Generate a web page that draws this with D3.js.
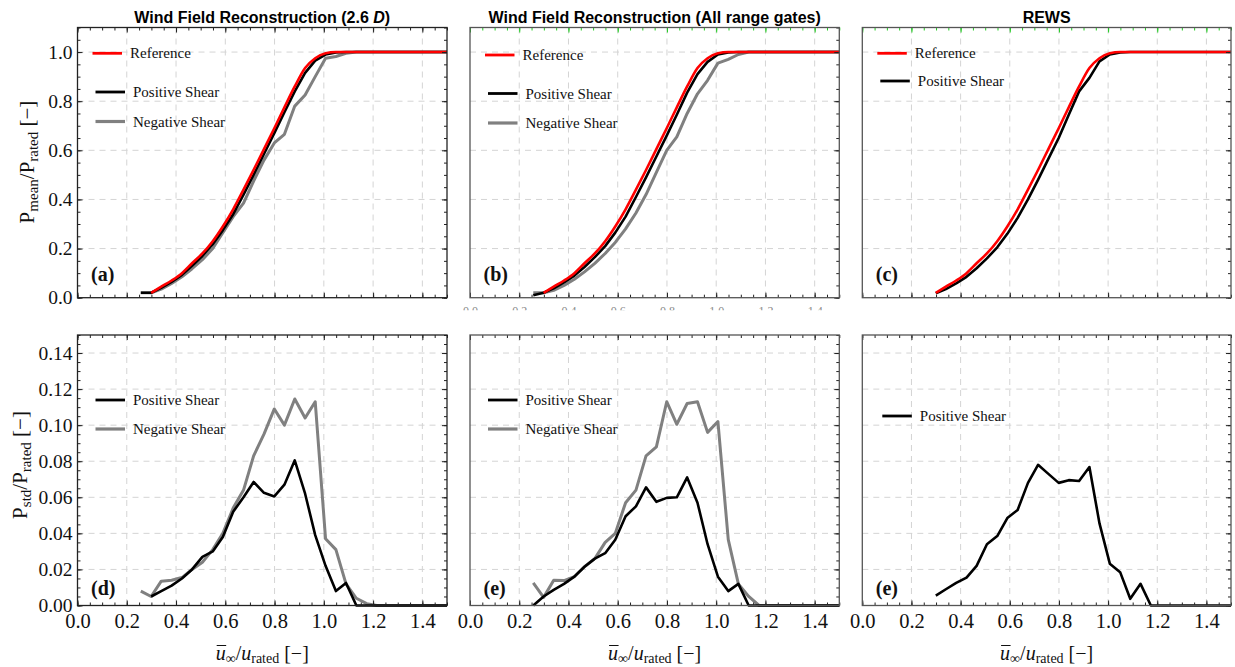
<!DOCTYPE html>
<html>
<head>
<meta charset="utf-8">
<script src="https://cdn.jsdelivr.net/npm/d3@7"></script>
<style>
  html, body { margin: 0; padding: 0; background: #fff; }
  svg { display: block; }
</style>
</head>
<body>
<svg id="chart" width="1235" height="667"></svg>
<script>
// ---------------- DATA ----------------
const panelTitles = ["Wind Field Reconstruction (2.6 D)", "Wind Field Reconstruction (All range gates)", "REWS"];
const panelLetters = ["(a)", "(b)", "(c)", "(d)", "(e)", "(e)"];
const seriesNames = ["Reference", "Positive Shear", "Negative Shear"];

const xTicks = [0.0, 0.2, 0.4, 0.6, 0.8, 1.0, 1.2, 1.4];
const xTickLabels = ["0.0", "0.2", "0.4", "0.6", "0.8", "1.0", "1.2", "1.4"];
const meanTicks = [0.0, 0.2, 0.4, 0.6, 0.8, 1.0];
const meanTickLabels = ["0.0", "0.2", "0.4", "0.6", "0.8", "1.0"];
const stdTicks = [0.00, 0.02, 0.04, 0.06, 0.08, 0.10, 0.12, 0.14];
const stdTickLabels = ["0.00", "0.02", "0.04", "0.06", "0.08", "0.10", "0.12", "0.14"];

// normalised wind speed bins
const uBins = [0.257, 0.299, 0.340, 0.382, 0.424, 0.465, 0.507, 0.549, 0.590, 0.632, 0.674, 0.715, 0.757, 0.799, 0.840, 0.882, 0.924, 0.965, 1.007, 1.049, 1.090, 1.132, 1.174, 1.215, 1.257, 1.299, 1.340, 1.382, 1.424, 1.465, 1.507];

// P_mean / P_rated
const refMean   = [null, 0.02, 0.045, 0.07, 0.10, 0.14, 0.18, 0.23, 0.29, 0.36, 0.44, 0.52, 0.605, 0.69, 0.775, 0.86, 0.935, 0.975, 0.995, 1, 1, 1, 1, 1, 1, 1, 1, 1, 1, 1, 1];
const posMeanA  = [0.02, 0.02, 0.04, 0.064, 0.093, 0.13, 0.17, 0.218, 0.275, 0.34, 0.42, 0.50, 0.585, 0.67, 0.755, 0.84, 0.915, 0.965, 0.99, 0.998, 1, 1, 1, 1, 1, 1, 1, 1, 1, 1, 1];
const negMeanA  = [0.02, 0.02, 0.035, 0.058, 0.085, 0.118, 0.155, 0.2, 0.265, 0.33, 0.385, 0.475, 0.56, 0.63, 0.665, 0.78, 0.825, 0.90, 0.975, 0.982, 0.995, 1, 1, 1, 1, 1, 1, 1, 1, 1, 1];
const posMeanB  = [0.01, 0.02, 0.038, 0.062, 0.09, 0.125, 0.165, 0.21, 0.265, 0.33, 0.41, 0.49, 0.575, 0.66, 0.745, 0.835, 0.91, 0.96, 0.99, 0.998, 1, 1, 1, 1, 1, 1, 1, 1, 1, 1, 1];
const negMeanB  = [0.02, 0.02, 0.03, 0.05, 0.075, 0.105, 0.14, 0.18, 0.225, 0.28, 0.345, 0.42, 0.51, 0.60, 0.655, 0.75, 0.83, 0.885, 0.955, 0.97, 0.99, 1, 1, 1, 1, 1, 1, 1, 1, 1, 1];
const posMeanC  = [null, 0.018, 0.035, 0.058, 0.085, 0.12, 0.16, 0.205, 0.26, 0.325, 0.40, 0.48, 0.565, 0.65, 0.745, 0.84, 0.895, 0.962, 0.99, 0.998, 1, 1, 1, 1, 1, 1, 1, 1, 1, 1, 1];

// P_std / P_rated
const posStdD = [null, 0.005, 0.008, 0.011, 0.015, 0.020, 0.027, 0.030, 0.038, 0.052, 0.060, 0.0685, 0.0625, 0.0605, 0.067, 0.0805, 0.062, 0.039, 0.022, 0.008, 0.0125, 0, 0, 0, 0, 0, 0, 0, 0, 0, 0];
const negStdD = [0.008, 0.005, 0.0135, 0.014, 0.0155, 0.020, 0.024, 0.031, 0.040, 0.054, 0.064, 0.083, 0.095, 0.109, 0.100, 0.1145, 0.104, 0.113, 0.037, 0.031, 0.012, 0.004, 0.001, 0, 0, 0, 0, 0, 0, 0, 0];
const posStdE = [0, 0.005, 0.0087, 0.012, 0.016, 0.0215, 0.026, 0.029, 0.0365, 0.0495, 0.055, 0.0655, 0.0575, 0.0597, 0.060, 0.071, 0.057, 0.034, 0.016, 0.008, 0.012, 0, 0, 0, 0, 0, 0, 0, 0, 0, 0];
const negStdE = [0.0125, 0.0045, 0.014, 0.0138, 0.016, 0.0215, 0.026, 0.035, 0.040, 0.057, 0.064, 0.083, 0.088, 0.113, 0.1005, 0.112, 0.113, 0.096, 0.102, 0.0365, 0.012, 0.005, 0, 0, 0, 0, 0, 0, 0, 0, 0];
const posStdF = [null, 0.0055, 0.009, 0.0125, 0.0155, 0.022, 0.034, 0.0385, 0.0485, 0.053, 0.068, 0.078, 0.073, 0.068, 0.0695, 0.069, 0.0768, 0.0455, 0.0232, 0.0185, 0.0037, 0.012, 0, 0, 0, 0, 0, 0, 0, 0, 0];

// ---------------- LAYOUT / STYLE ----------------
const svg = d3.select("#chart");
const SERIF = "'Liberation Serif', 'Times New Roman', serif";
const SANS = "'Liberation Sans', Arial, sans-serif";
const colors = { ref: "#ff0000", pos: "#000000", neg: "#808080" };
const widths = { ref: 2.6, pos: 2.6, neg: 3.0 };

const cols = [{ x0: 77.5, x1: 447 }, { x0: 470, x1: 839.3 }, { x0: 862.3, x1: 1231 }];
const rows = [{ y0: 27.5, y1: 297.7, domain: [0, 1.1], major: meanTicks, labels: meanTickLabels, minorStep: 0.05, grid: [0.2, 0.4, 0.6, 0.8, 1.0] },
              { y0: 335, y1: 605.5, domain: [0, 0.15], major: stdTicks, labels: stdTickLabels, minorStep: 0.005, grid: [0.02, 0.04, 0.06, 0.08, 0.10, 0.12, 0.14] }];

const xMinor = d3.range(0, 1.5001, 0.05);

const panels = [
  { r: 0, c: 0, series: [["neg", negMeanA], ["pos", posMeanA], ["ref", refMean]],
    legend: [["ref", 0, 25.8], ["pos", 3, 64.5], ["neg", 3, 94]] },
  { r: 0, c: 1, series: [["neg", negMeanB], ["pos", posMeanB], ["ref", refMean]],
    legend: [["ref", 0, 27.5], ["pos", 3, 66], ["neg", 3, 95.5]] },
  { r: 0, c: 2, series: [["pos", posMeanC], ["ref", refMean]],
    legend: [["ref", 0, 25.8], ["pos", 3, 53.5]] },
  { r: 1, c: 0, series: [["neg", negStdD], ["pos", posStdD]],
    legend: [["pos", 3, 65], ["neg", 3, 94]] },
  { r: 1, c: 1, series: [["neg", negStdE], ["pos", posStdE]],
    legend: [["pos", 3, 65], ["neg", 3, 94]] },
  { r: 1, c: 2, series: [["pos", posStdF]],
    legend: [["pos", 5, 81]] }
];
const legendNames = { ref: seriesNames[0], pos: seriesNames[1], neg: seriesNames[2] };

const defs = svg.append("defs");

panels.forEach((p, i) => {
  const col = cols[p.c], row = rows[p.r];
  const x = d3.scaleLinear().domain([0, 1.5]).range([col.x0, col.x1]);
  const y = d3.scaleLinear().domain(row.domain).range([row.y1, row.y0]);
  const g = svg.append("g");
  const yMinor = d3.range(row.domain[0], row.domain[1] + 1e-9, row.minorStep);

  // grid
  g.append("g").selectAll("line").data(xTicks.filter(v => v > 0)).join("line")
    .attr("x1", d => x(d)).attr("x2", d => x(d)).attr("y1", row.y0).attr("y2", row.y1)
    .attr("stroke", "#d4d4d4").attr("stroke-width", 1).attr("stroke-dasharray", "6,5");
  g.append("g").selectAll("line").data(row.grid).join("line")
    .attr("x1", col.x0).attr("x2", col.x1).attr("y1", d => y(d)).attr("y2", d => y(d))
    .attr("stroke", "#d4d4d4").attr("stroke-width", 1).attr("stroke-dasharray", "6,5");

  // clip
  const cid = "clip" + i;
  defs.append("clipPath").attr("id", cid).append("rect")
    .attr("x", col.x0).attr("y", row.y0 - 2).attr("width", col.x1 - col.x0).attr("height", row.y1 - row.y0 + 4);

  // lines
  const lg = g.append("g").attr("clip-path", `url(#${cid})`);
  p.series.forEach(([key, vals]) => {
    const pts = uBins.map((u, k) => [u, vals[k]]);
    const line = d3.line().defined(d => d[1] !== null).x(d => x(d[0])).y(d => y(d[1]))
      .curve(key === "ref" ? d3.curveMonotoneX : d3.curveLinear);
    lg.append("path").attr("d", line(pts)).attr("fill", "none")
      .attr("stroke", colors[key]).attr("stroke-width", widths[key])
      .attr("stroke-linejoin", "round").attr("stroke-linecap", "butt");
  });

  // ticks (inward) via d3 axes
  const tickColor = "#222";
  const topGreen = (p.r === 0 && p.c > 0);
  const addAxis = (axisFn, scale, vals, size, tx, ty, color) => {
    const a = g.append("g").attr("transform", `translate(${tx},${ty})`)
      .call(axisFn(scale).tickValues(vals).tickSize(-size).tickFormat(""));
    a.select(".domain").remove();
    a.selectAll("line").attr("stroke", color).attr("stroke-width", 1);
    return a;
  };
  addAxis(d3.axisBottom, x, xMinor, 3, 0, row.y1, tickColor);
  addAxis(d3.axisBottom, x, xTicks, 5, 0, row.y1, tickColor);
  addAxis(d3.axisTop, x, xMinor, 3, 0, row.y0, topGreen ? "#22cc22" : tickColor);
  addAxis(d3.axisTop, x, xTicks, 5, 0, row.y0, topGreen ? "#22cc22" : tickColor);
  addAxis(d3.axisRight, y, yMinor, 3, col.x1, 0, tickColor);
  addAxis(d3.axisRight, y, row.major, 5, col.x1, 0, tickColor);
  if (p.c === 0) {
    addAxis(d3.axisLeft, y, yMinor, 3, col.x0, 0, tickColor);
    const la = g.append("g").attr("transform", `translate(${col.x0},0)`)
      .call(d3.axisLeft(y).tickValues(row.major).tickSize(-5).tickPadding(5)
        .tickFormat((d, k) => row.labels[k]));
    la.select(".domain").remove();
    la.selectAll("line").attr("stroke", tickColor);
    la.selectAll("text").attr("font-family", SERIF).attr("font-size", 19.5).attr("fill", "#111");
  }

  // frame
  g.append("rect").attr("x", col.x0).attr("y", row.y0)
    .attr("width", col.x1 - col.x0).attr("height", row.y1 - row.y0)
    .attr("fill", "none").attr("stroke", p.c === 0 ? "#222" : "#555").attr("stroke-width", 1.3);

  // x tick labels on bottom row
  if (p.r === 1) {
    const ba = g.append("g").attr("transform", `translate(0,${row.y1})`)
      .call(d3.axisBottom(x).tickValues(xTicks).tickSize(0).tickPadding(8)
        .tickFormat((d, k) => xTickLabels[k]));
    ba.select(".domain").remove();
    ba.selectAll("text").attr("font-family", SERIF).attr("font-size", 20.5).attr("fill", "#111");
  }
  // clipped remnants of tick labels under panel (b)
  if (p.r === 0 && p.c === 1) {
    defs.append("clipPath").attr("id", "cutb").append("rect")
      .attr("x", col.x0 - 20).attr("y", 306).attr("width", col.x1 - col.x0 + 40).attr("height", 4.3);
    const ca = g.append("g").attr("clip-path", "url(#cutb)")
      .append("g").attr("transform", `translate(0,${row.y1})`)
      .call(d3.axisBottom(x).tickValues(xTicks).tickSize(0).tickPadding(9)
        .tickFormat((d, k) => xTickLabels[k]));
    ca.select(".domain").remove();
    ca.selectAll("text").attr("font-family", SERIF).attr("font-size", 12).attr("fill", "#888");
  }

  // legend
  p.legend.forEach(([key, dx, dy]) => {
    const ly = row.y0 + dy;
    const lx = col.x0 + 15 + dx;
    g.append("line").attr("x1", lx).attr("x2", lx + 29.5).attr("y1", ly).attr("y2", ly)
      .attr("stroke", colors[key]).attr("stroke-width", key === "neg" ? 3.2 : 2.8);
    g.append("text").attr("x", lx + 37.5).attr("y", ly + 5)
      .attr("font-family", SERIF).attr("font-size", 15).attr("fill", "#111")
      .text(legendNames[key]);
  });

  // panel letter
  g.append("text").attr("x", col.x0 + 13.5).attr("y", p.r === 0 ? 280.5 : 595)
    .attr("font-family", SERIF).attr("font-weight", "bold").attr("font-size", 20).attr("fill", "#111")
    .text(panelLetters[i]);

  // titles
  if (p.r === 0) {
    const t = svg.append("text").attr("x", (col.x0 + col.x1) / 2).attr("y", 23)
      .attr("text-anchor", "middle").attr("font-family", SANS).attr("font-weight", "bold")
      .attr("font-size", 16).attr("fill", "#000");
    if (p.c === 0) {
      t.append("tspan").text("Wind Field Reconstruction (2.6 ");
      t.append("tspan").attr("font-style", "italic").text("D");
      t.append("tspan").text(")");
    } else {
      t.text(panelTitles[p.c]);
    }
  }

  // x axis title
  if (p.r === 1) {
    const cx = (col.x0 + col.x1) / 2;
    const t = svg.append("text").attr("x", cx).attr("y", 659.5).attr("text-anchor", "middle")
      .attr("font-family", SERIF).attr("font-size", 20).attr("fill", "#111");
    t.append("tspan").attr("font-style", "italic").text("u");
    t.append("tspan").attr("font-size", 14).attr("dy", 3).text("∞");
    t.append("tspan").attr("dy", -3).text("/");
    t.append("tspan").attr("font-style", "italic").text("u");
    t.append("tspan").attr("font-size", 14).attr("dy", 3).text("rated");
    t.append("tspan").attr("dy", -3).text(" [−]");
    const ext = t.node().getExtentOfChar(0);
    svg.append("line").attr("x1", ext.x + 1).attr("x2", ext.x + ext.width + 0.5)
      .attr("y1", ext.y + 4).attr("y2", ext.y + 4).attr("stroke", "#111").attr("stroke-width", 1);
  }
});

// y axis titles
function yTitle(cx, cy, sub1) {
  const t = svg.append("text").attr("transform", `translate(${cx},${cy}) rotate(-90)`)
    .attr("text-anchor", "middle").attr("font-family", SERIF).attr("font-size", 21).attr("fill", "#111");
  t.append("tspan").text("P");
  t.append("tspan").attr("font-size", 15).attr("dy", 4).text(sub1);
  t.append("tspan").attr("dy", -4).text("/P");
  t.append("tspan").attr("font-size", 15).attr("dy", 4).text("rated");
  t.append("tspan").attr("dy", -4).text(" [−]");
}
yTitle(34, 162, "mean");
yTitle(27, 465, "std");
</script>
</body>
</html>
